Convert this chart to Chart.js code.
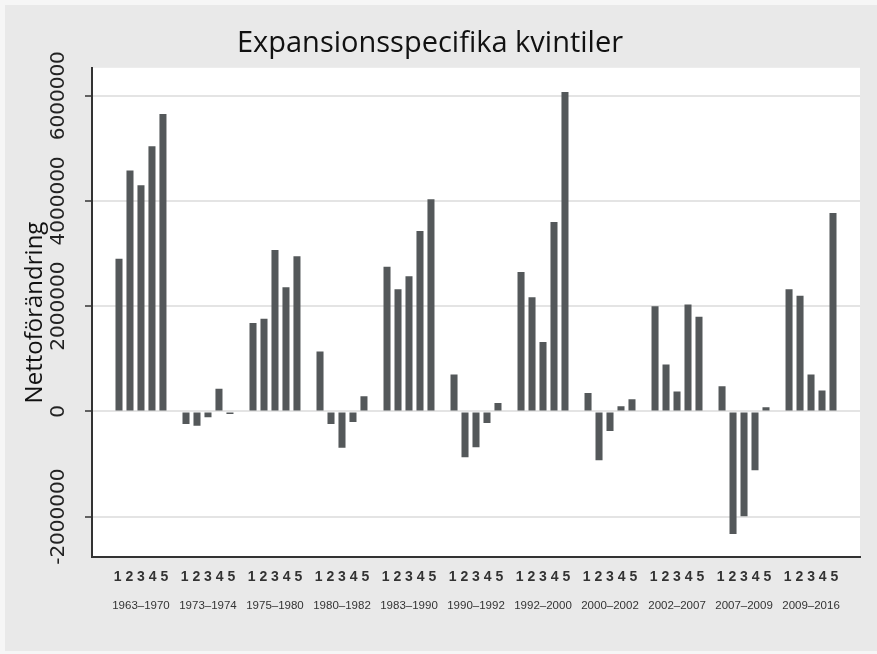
<!DOCTYPE html>
<html>
<head>
<meta charset="utf-8">
<script src="https://cdn.jsdelivr.net/npm/chart.js@4/dist/chart.umd.min.js"></script>
<style>
    html, body { margin: 0; padding: 0; background: #e9e9e9; }
    #wrap { width: 877px; height: 654px; }
</style>
</head>
<body>
<div id="wrap"><canvas id="chart" width="877" height="654"></canvas></div>
<script>
// Perioder (expansioner) och kvintiler
const periods = ['1963–1970', '1973–1974', '1975–1980', '1980–1982', '1983–1990', '1990–1992',
                 '1992–2000', '2000–2002', '2002–2007', '2007–2009', '2009–2016'];
const quintileLabel = '1 2 3 4 5';

// Nettoförändring per kvintil, en lista per kvintil över perioderna
const q1 = [2900000, -240000, 1680000, 1140000, 2750000, 700000, 2650000, 350000, 2000000, 480000, 2320000];
const q2 = [4580000, -270000, 1760000, -240000, 2320000, -870000, 2170000, -930000, 890000, -2330000, 2200000];
const q3 = [4300000, -110000, 3070000, -690000, 2570000, -680000, 1320000, -370000, 380000, -1990000, 700000];
const q4 = [5040000, 430000, 2360000, -200000, 3430000, -220000, 3600000, 100000, 2030000, -1120000, 400000];
const q5 = [5650000, -50000, 2950000, 290000, 4030000, 160000, 6070000, 230000, 1800000, 80000, 3770000];

const yTicks = [-2000000, 0, 2000000, 4000000, 6000000];

const BAR = '#54585a';
const INK = '#333333';

// Background: grey page with white plot area
const backdrop = {
    id: 'backdrop',
    beforeDraw(chart) {
        const { ctx, chartArea: a } = chart;
        ctx.save();
        ctx.fillStyle = '#f6f6f6';
        ctx.fillRect(0, 0, chart.width, chart.height);
        ctx.fillStyle = '#e9e9e9';
        ctx.fillRect(5, 5, chart.width - 5, chart.height - 8);
        ctx.fillStyle = '#ffffff';
        ctx.fillRect(a.left, a.top, a.right - a.left, a.bottom - a.top);
        ctx.restore();
    }
};

const series = [q1, q2, q3, q4, q5];
const datasets = series.map((vals, k) => ({
    label: 'Kvintil ' + (k + 1),
    data: vals.map((v, i) => ({ x: i, y: v })),
    backgroundColor: BAR,
    borderWidth: 0,
    categoryPercentage: 0.82,
    barPercentage: 0.64
}));

const periodTicks = scale => {
    scale.ticks = periods.map((p, i) => ({ value: i }));
};

new Chart(document.getElementById('chart'), {
    type: 'bar',
    data: { datasets },
    plugins: [backdrop],
    options: {
        responsive: false,
        animation: false,
        layout: { padding: { left: 0, right: 17, top: 0, bottom: 0 } },
        plugins: {
            legend: { display: false },
            tooltip: { enabled: false },
            title: {
                display: true,
                text: 'Expansionsspecifika kvintiler',
                color: '#111',
                font: { family: 'Open Sans', size: 29, weight: 'normal' },
                padding: { top: 26, bottom: 7 }
            }
        },
        scales: {
            x: {
                type: 'linear',
                offset: false,
                min: -0.731,
                max: 10.731,
                weight: 0,
                afterBuildTicks: periodTicks,
                grid: { display: false, drawTicks: false },
                border: { display: true, color: INK, width: 2 },
                ticks: {
                    autoSkip: false,
                    maxRotation: 0,
                    padding: 12,
                    color: INK,
                    font: { family: 'Liberation Sans', size: 14, weight: 'bold' },
                    callback: () => quintileLabel
                }
            },
            x2: {
                type: 'linear',
                position: 'bottom',
                offset: false,
                min: -0.731,
                max: 10.731,
                weight: 1,
                afterBuildTicks: periodTicks,
                grid: { display: false, drawTicks: false },
                border: { display: false },
                ticks: {
                    autoSkip: false,
                    maxRotation: 0,
                    padding: 1,
                    color: INK,
                    font: { family: 'Liberation Sans', size: 11.5 },
                    callback: value => periods[value]
                },
                afterFit: s => { s.height = 56; }
            },
            y: {
                min: -2770000,
                max: 6530000,
                afterBuildTicks: scale => { scale.ticks = yTicks.map(v => ({ value: v })); },
                afterFit: s => { s.width = 92; },
                grid: { color: '#e4e4e4', lineWidth: 2, tickColor: INK, tickLength: 7, tickWidth: 1.5 },
                border: { display: true, color: INK, width: 2 },
                ticks: {
                    minRotation: 90,
                    maxRotation: 90,
                    crossAlign: 'center',
                    padding: -22,
                    color: '#222',
                    font: { family: 'DejaVu Sans', size: 20 },
                    callback: value => String(value)
                },
                title: {
                    display: true,
                    text: 'Nettoförändring',
                    color: '#111',
                    font: { family: 'Open Sans', size: 24, weight: 'normal' },
                    padding: { top: 21, bottom: 0 }
                }
            }
        }
    }
});
</script>
</body>
</html>
